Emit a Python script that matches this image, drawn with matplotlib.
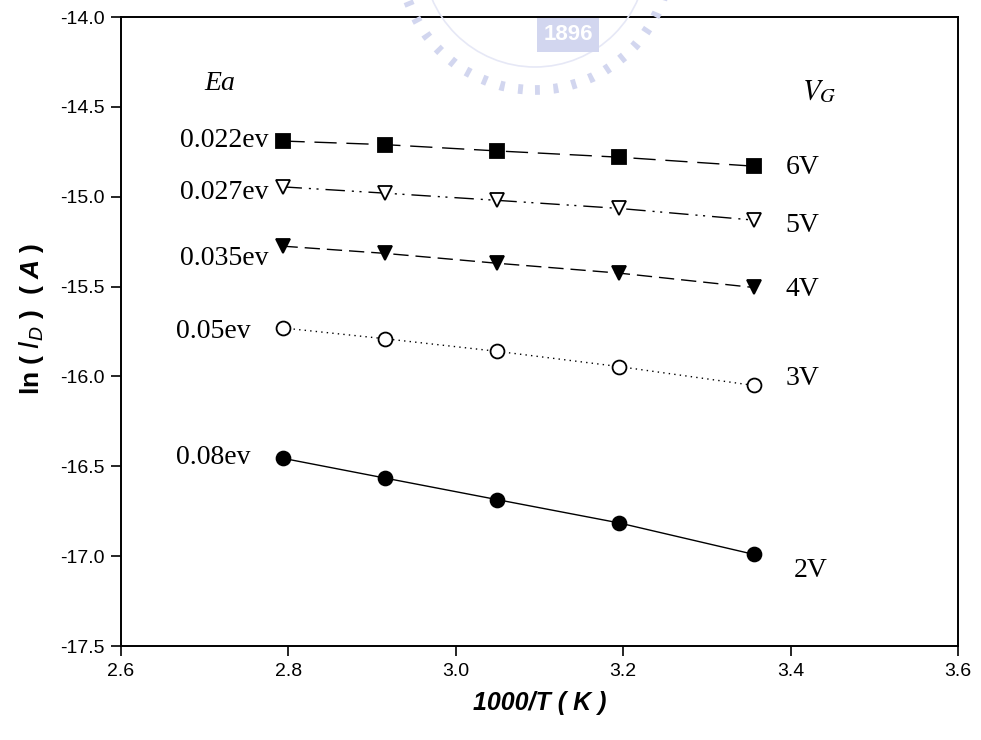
import numpy as np
import matplotlib.pyplot as plt
from matplotlib.patches import Circle

plt.rcParams['mathtext.fontset'] = 'custom'
plt.rcParams['mathtext.bfit'] = 'Liberation Sans:bold:italic'

# 1000/T for T = 358, 343, 328, 313, 298 K
inv_t = [2.793, 2.915, 3.049, 3.195, 3.356]

# ln(I_D) at each gate voltage
ln_id_6v = [-14.69, -14.71, -14.745, -14.78, -14.83]
ln_id_5v = [-14.945, -14.98, -15.02, -15.065, -15.13]
ln_id_4v = [-15.275, -15.315, -15.37, -15.425, -15.505]
ln_id_3v = [-15.73, -15.79, -15.86, -15.945, -16.05]
ln_id_2v = [-16.455, -16.565, -16.685, -16.815, -16.99]

gate_labels = ['6V', '5V', '4V', '3V', '2V']
ea_labels = ['0.022ev', '0.027ev', '0.035ev', '0.05ev', '0.08ev']

x_ticks = [2.6, 2.8, 3.0, 3.2, 3.4, 3.6]
y_ticks = [-17.5, -17.0, -16.5, -16.0, -15.5, -15.0, -14.5, -14.0]

sans = 'Liberation Sans'
serif = 'Liberation Serif'

fig = plt.figure(figsize=(9.81, 7.4), dpi=100)
ax = fig.add_axes([0.1233, 0.127, 0.8533, 0.850])

# faint seal behind the top of the plot
seal = '#d2d6ef'
fig.patches.append(Circle((535, 785), 135, transform=None,
                          fill=False, ec=seal, lw=7, ls=(0, (0.5, 1.4)), zorder=0))
fig.patches.append(Circle((535, 785), 112, transform=None,
                          fill=False, ec='#e6e8f6', lw=1.2, zorder=0))
fig.text(568 / 981, 1 - 35 / 740, '1896', color='white', fontsize=16, fontweight='bold',
         family=sans, ha='center', va='center', zorder=0,
         bbox=dict(boxstyle='square,pad=0.3', fc=seal, ec='none'))

styles = [
    dict(marker='s', mfc='black', ls=(0, (16, 7))),
    dict(marker='v', mfc='white', ls=(0, (14, 5, 1.5, 4, 1.5, 5))),
    dict(marker='v', mfc='black', ls=(0, (11, 5))),
    dict(marker='o', mfc='white', ls=(0, (1, 3))),
    dict(marker='o', mfc='black', ls='-'),
]
series = [ln_id_6v, ln_id_5v, ln_id_4v, ln_id_3v, ln_id_2v]

# label offsets in pixels (left side, right side)
left_off = [(-14, 1), (-14, -6), (-14, -12), (-32, -4), (-32, 1)]
right_off = [(32, -1), (32, -5), (32, -2), (32, 7), (40, -16)]

for ys, st, ea, vg, lo, ro in zip(series, styles, ea_labels, gate_labels, left_off, right_off):
    ax.plot(inv_t, ys, color='black', lw=1.0, ms=10, mec='black', mew=1.3,
            marker=st['marker'], mfc=st['mfc'], ls=st['ls'], clip_on=False, zorder=3)
    ax.annotate(ea, (inv_t[0], ys[0]), xytext=lo, textcoords='offset pixels',
                ha='right', va='center', fontsize=20, family=serif)
    ax.annotate(vg, (inv_t[-1], ys[-1]), xytext=ro, textcoords='offset pixels',
                ha='left', va='center', fontsize=20, family=serif)

ax.text(0.118, 0.895, 'Ea', transform=ax.transAxes, fontsize=20, family=serif,
        style='italic', ha='center', va='center')
ax.text(0.834, 0.883, r'$V_G$', transform=ax.transAxes, fontsize=21,
        ha='center', va='center', math_fontfamily='stix')

ax.set_xlim(2.6, 3.6)
ax.set_ylim(-17.5, -14.0)
ax.set_xticks(x_ticks)
ax.set_yticks(y_ticks)
ax.set_xticklabels([f'{v:.1f}' for v in x_ticks], family=sans, fontsize=14)
ax.set_yticklabels([f'{v:.1f}' for v in y_ticks], family=sans, fontsize=14)
ax.tick_params(direction='out', length=7, width=1.2, top=False, right=False, pad=5)
for sp in ax.spines.values():
    sp.set_linewidth(1.4)

ax.set_xlabel('1000/T ( K )', family=sans, fontsize=18, fontweight='bold',
              style='italic', labelpad=8)
ax.set_ylabel(r'ln ( $\boldsymbol{I_D}$ )  ( $\boldsymbol{A}$ )', family=sans,
              fontsize=19, fontweight='bold', labelpad=10)
ax.yaxis.set_label_coords(-0.09, 0.52)

fig.savefig('out.png', dpi=100)
